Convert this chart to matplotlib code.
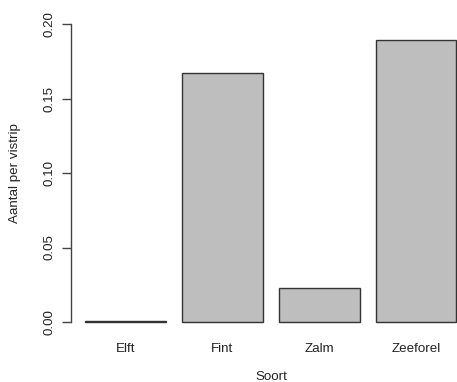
import numpy as np
import matplotlib
matplotlib.use('Agg')
import matplotlib.pyplot as plt

plt.rcParams['font.family'] = ['Liberation Sans', 'DejaVu Sans']

soort = ['Elft', 'Fint', 'Zalm', 'Zeeforel']
aantal = [0.001, 0.167, 0.0228, 0.189]
yticks = [0.00, 0.05, 0.10, 0.15, 0.20]
ytick_labels = ['0.00', '0.05', '0.10', '0.15', '0.20']

W, H = 457, 382
fig = plt.figure(figsize=(W / 100, H / 100), dpi=100)
# plot region in pixels: left 71, right 457, y=0 at 322, y=0.2 at 24
ax = fig.add_axes([71 / W, (H - 322) / H, (W - 71) / W, 298 / H])

# R barplot layout: width 1, space 0.2
x = 0.2 + np.arange(len(soort)) * 1.2 + 0.5
ax.bar(x, aantal, width=1.0, color='#bebebe', edgecolor='#333333',
       linewidth=1.0, clip_on=False)

ax.set_xlim(0.2 - 14 / 80.75, 0.2 + (W - 85) / 80.75)
ax.set_ylim(0, 0.2)

for s in ['top', 'right', 'bottom']:
    ax.spines[s].set_visible(False)
ax.spines['left'].set_color('#444444')
ax.spines['left'].set_linewidth(1.0)

ax.set_yticks(yticks)
ax.set_yticklabels(ytick_labels, rotation=90, va='center', fontsize=9.6)
ax.tick_params(axis='y', length=6.5, width=1.0, color='#444444', pad=5,
               labelcolor='#222222')

ax.set_xticks(x)
ax.set_xticklabels(soort, fontsize=9.6, color='#222222')
ax.tick_params(axis='x', length=0, pad=15)

fig.text(15 / W, (H - 173) / H, 'Aantal per vistrip', rotation=90,
         ha='center', va='center', fontsize=9.6, color='#222222')
fig.text(271 / W, 1.5 / H, 'Soort', ha='center', va='baseline',
         fontsize=9.6, color='#222222')

fig.savefig('out.png', dpi=100)
